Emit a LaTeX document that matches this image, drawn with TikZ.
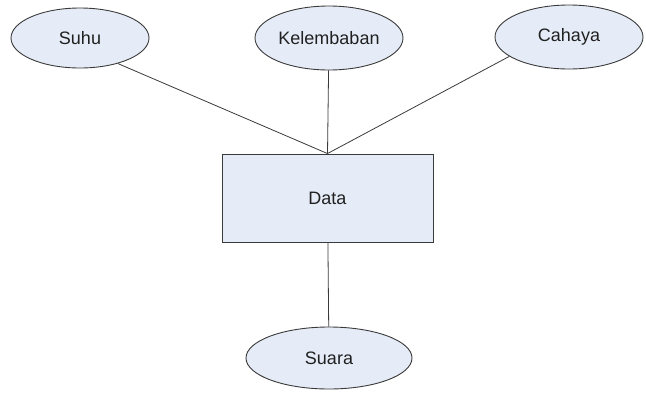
\documentclass[tikz,border=0pt]{standalone}
\usepackage{fontspec}
\setmainfont{Liberation Sans}
\usetikzlibrary{shapes.geometric}
\definecolor{fillb}{HTML}{E6ECF7}
\definecolor{edge}{HTML}{3A3A3A}
\definecolor{txt}{HTML}{202020}
\begin{document}
\begin{tikzpicture}[x=1pt,y=-1pt,
  attr/.style={ellipse,draw=edge,fill=fillb,line width=0.9pt,inner sep=0pt,text=txt,font=\fontsize{18}{20}\selectfont},
  ent/.style={rectangle,draw=edge,fill=fillb,line width=0.9pt,inner sep=0pt,text=txt,font=\fontsize{18}{20}\selectfont},
  conn/.style={draw=edge,line width=0.8pt}]
\useasboundingbox (0,0) rectangle (646,392);
\node[attr,minimum width=138pt,minimum height=60pt] (suhu) at (80,38) {Suhu};
\node[attr,minimum width=148pt,minimum height=64pt] (kel) at (329,38) {Kelembaban};
\node[attr,minimum width=148pt,minimum height=64pt] (cah) at (569,37) {Cahaya};
\node[ent,minimum width=211pt,minimum height=88pt] (data) at (327.5,198) {Data};
\node[attr,minimum width=166pt,minimum height=62pt] (suara) at (329,358) {Suara};
\draw[conn] (suhu.-34.5) -- (data.north);
\draw[conn] (kel) -- (data.north);
\draw[conn] (cah.198.7) -- (data.north);
\draw[conn] (data) -- (suara);
\end{tikzpicture}
\end{document}
